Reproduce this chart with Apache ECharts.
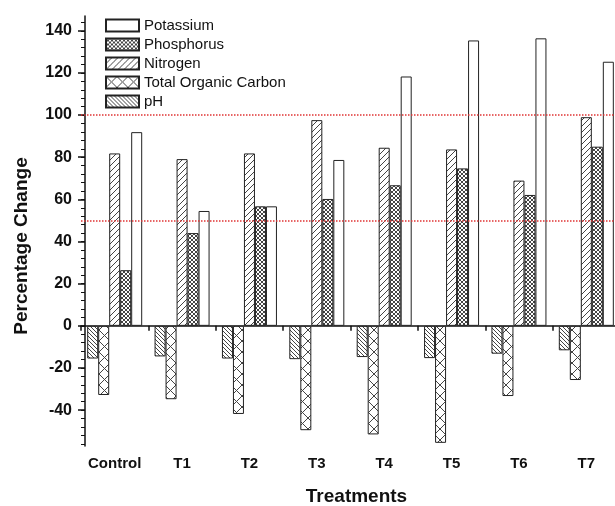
<!DOCTYPE html>
<html>
<head>
<meta charset="utf-8">
<script src="https://cdn.jsdelivr.net/npm/echarts@6/dist/echarts.min.js"></script>
<style>html,body{margin:0;padding:0;background:#fff}#c{width:615px;height:506px}</style>
</head>
<body>
<div id="c"></div>
<script>
const categories = ['Control', 'T1', 'T2', 'T3', 'T4', 'T5', 'T6', 'T7'];
const pH = [-15.5, -14.5, -15.5, -15.8, -14.8, -15.3, -13.2, -11.6];
const totalOrganicCarbon = [-32.8, -34.8, -41.8, -49.5, -51.5, -55.5, -33.3, -25.7];
const nitrogen = [81.8, 79.1, 81.8, 97.6, 84.5, 83.7, 68.9, 99.0];
const phosphorus = [26.4, 44.0, 56.7, 60.2, 66.7, 74.7, 62.1, 85.0];
const potassium = [91.9, 54.5, 56.7, 78.7, 118.3, 135.4, 136.4, 125.3];
const yTickLabels = [-40, -20, 0, 20, 40, 60, 80, 100, 120, 140];
const yMinorTicks = [];
for (let v = -56; v <= 144; v += 4) yMinorTicks.push(v);
const refLines = [50, 100];

const FONT = 'Liberation Sans, Arial, sans-serif';

function makePattern(size, drawFn) {
  const c = document.createElement('canvas');
  c.width = size; c.height = size;
  const ctx = c.getContext('2d');
  ctx.fillStyle = '#ffffff';
  ctx.fillRect(0, 0, size, size);
  ctx.strokeStyle = '#444';
  ctx.lineWidth = 1;
  drawFn(ctx, size);
  return { image: c, repeat: 'repeat' };
}
function back(ctx, s) { // "\" lines
  ctx.beginPath();
  ctx.moveTo(-1, -1); ctx.lineTo(s + 1, s + 1);
  ctx.moveTo(-1, s - 1); ctx.lineTo(1, s + 1);
  ctx.moveTo(s - 1, -1); ctx.lineTo(s + 1, 1);
  ctx.stroke();
}
function fwd(ctx, s) { // "/" lines
  ctx.beginPath();
  ctx.moveTo(-1, s + 1); ctx.lineTo(s + 1, -1);
  ctx.moveTo(-1, 1); ctx.lineTo(1, -1);
  ctx.moveTo(s - 1, s + 1); ctx.lineTo(s + 1, s - 1);
  ctx.stroke();
}
const patPH = makePattern(4, back);
const patN = makePattern(6, fwd);
const patTOC = makePattern(11, (ctx, s) => { back(ctx, s); fwd(ctx, s); });
const patP = makePattern(4, (ctx, s) => { back(ctx, s); fwd(ctx, s); });

const border = { borderColor: '#222', borderWidth: 1 };
function bar(name, data, color, extra) {
  return Object.assign({
    name: name, type: 'bar', data: data, barWidth: 11, barGap: '0%',
    itemStyle: Object.assign({ color: color }, border),
    emphasis: { disabled: true }
  }, extra || {});
}

const chart = echarts.init(document.getElementById('c'), null, { renderer: 'canvas' });
chart.setOption({
  animation: false,
  backgroundColor: '#fff',
  textStyle: { fontFamily: FONT },
  grid: { left: 81, top: 16, width: 539, height: 430, containLabel: false, outerBoundsMode: 'none' },
  legend: {
    orient: 'vertical', left: 100, top: 13,
    itemWidth: 33, itemHeight: 12, itemGap: 4,
    data: ['Potassium', 'Phosphorus', 'Nitrogen', 'Total Organic Carbon', 'pH'],
    textStyle: { fontSize: 15, color: '#111', fontFamily: FONT },
    icon: 'rect', selectedMode: false
  },
  xAxis: [{
    type: 'category', data: categories, position: 'bottom',
    axisLine: { show: false, onZero: false },
    axisTick: { show: false },
    axisLabel: { margin: 10, fontSize: 15, fontWeight: 'bold', color: '#111', fontFamily: FONT, interval: 0 },
    name: 'Treatments', nameLocation: 'middle', nameGap: 41,
    nameTextStyle: { fontSize: 19, fontWeight: 'bold', color: '#111', fontFamily: FONT, padding: [0, 0, 0, 12] },
    splitLine: { show: false }
  }, {
    type: 'category', data: categories, position: 'bottom',
    axisLine: { show: true, onZero: true, lineStyle: { color: '#111', width: 1.5 } },
    axisTick: { show: true, length: 5, lineStyle: { color: '#111', width: 1.5 } },
    axisLabel: { show: false },
    splitLine: { show: false }
  }],
  yAxis: [{
    type: 'value', min: -57, max: 147, offset: -4,
    axisLine: { show: true, onZero: false, lineStyle: { color: '#111', width: 1.5 } },
    axisTick: { show: true, length: 7, customValues: yTickLabels, lineStyle: { color: '#111', width: 1.5 } },
    axisLabel: { customValues: yTickLabels, margin: 13, fontSize: 16, fontWeight: 'bold', color: '#111', fontFamily: FONT },
    splitLine: { show: false }
  }, {
    type: 'value', min: -57, max: 147, offset: -4, position: 'left',
    axisLine: { show: false },
    axisTick: { show: true, length: 4, customValues: yMinorTicks, lineStyle: { color: '#111', width: 1 } },
    axisLabel: { show: false },
    splitLine: { show: false }
  }],
  graphic: [{
    type: 'text', x: 22, y: 246, rotation: Math.PI / 2,
    style: { text: 'Percentage Change', font: 'bold 19px ' + FONT, fill: '#111', textAlign: 'center', textVerticalAlign: 'middle' }
  }],
  series: [
    bar('pH', pH, patPH),
    bar('Total Organic Carbon', totalOrganicCarbon, patTOC),
    bar('Nitrogen', nitrogen, patN),
    bar('Phosphorus', phosphorus, patP),
    bar('Potassium', potassium, '#ffffff', {
      markLine: {
        silent: true, symbol: 'none', label: { show: false },
        lineStyle: { color: '#e03434', type: [1.5, 1.5], width: 1.5 },
        data: refLines.map(v => ({ yAxis: v }))
      }
    })
  ]
});
</script>
</body>
</html>
